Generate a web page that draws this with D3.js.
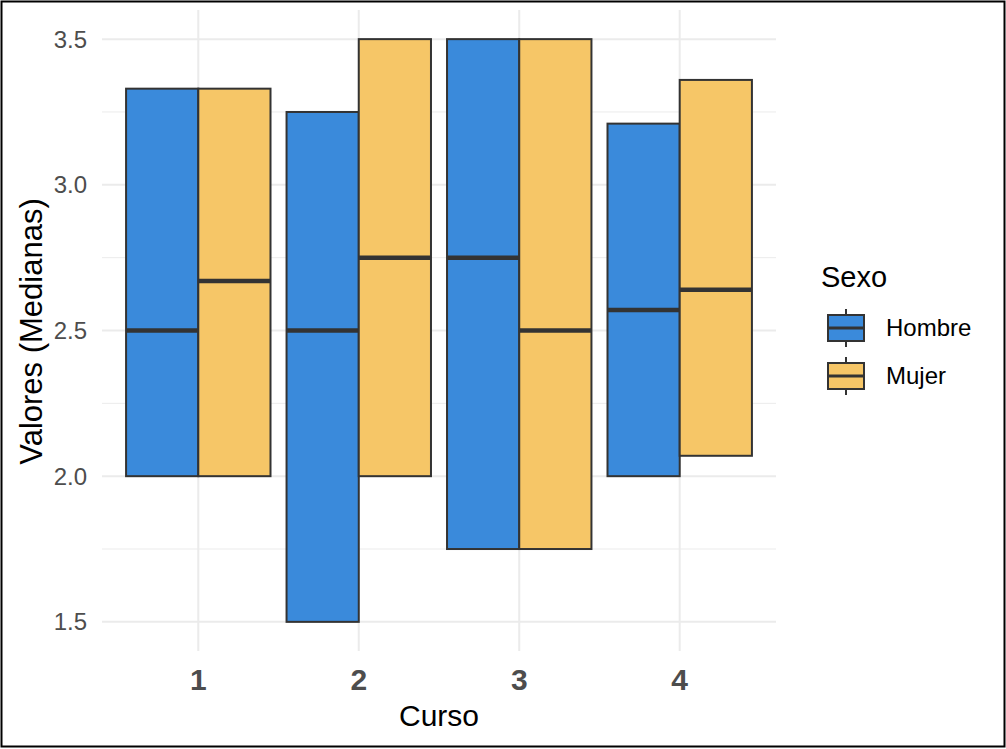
<!DOCTYPE html>
<html><head><meta charset="utf-8">
<script src="https://cdn.jsdelivr.net/npm/d3@7"></script>
<style>body{margin:0;background:#fff;} svg{display:block;}</style>
</head><body>
<script>
const cursos = ["1","2","3","4"];
const sexos = ["Hombre","Mujer"];
const colores = ["#3A8ADB","#F6C667"];
const hombreQ1  = [2.00, 1.50, 1.75, 2.00];
const hombreMed = [2.50, 2.50, 2.75, 2.57];
const hombreQ3  = [3.33, 3.25, 3.50, 3.21];
const mujerQ1   = [2.00, 2.00, 1.75, 2.07];
const mujerMed  = [2.67, 2.75, 2.50, 2.64];
const mujerQ3   = [3.33, 3.50, 3.50, 3.36];
const yTicks = [1.5, 2.0, 2.5, 3.0, 3.5];
const yMinor = [1.75, 2.25, 2.75, 3.25];

const data = [];
cursos.forEach((c,i)=>{
  data.push({curso:c, sexo:"Hombre", q1:hombreQ1[i], med:hombreMed[i], q3:hombreQ3[i]});
  data.push({curso:c, sexo:"Mujer", q1:mujerQ1[i], med:mujerMed[i], q3:mujerQ3[i]});
});

const FONT = "Liberation Sans, Arial, sans-serif";
const W=1006, H=749;
const svg = d3.select("body").append("svg").attr("width",W).attr("height",H);
svg.append("rect").attr("x",1.5).attr("y",1.5).attr("width",W-3).attr("height",H-4)
  .attr("fill","#fff").attr("stroke","#000").attr("stroke-width",2);

const panel = {left:102, right:776, top:10, bottom:651};
// ggplot discrete expansion: 0.6 units on each side
const x = d3.scalePoint().domain(cursos).range([panel.left,panel.right]).padding(0.6/1.5*1.0);
const unit = (panel.right-panel.left)/4.2;
const xc = c => panel.left + unit*(0.6 + cursos.indexOf(c));
const y = d3.scaleLinear().domain([1.4,3.6]).range([panel.bottom,panel.top]);
const xs = d3.scaleBand().domain(sexos).range([-unit*0.45, unit*0.45]);
const color = d3.scaleOrdinal().domain(sexos).range(colores);

const grid = svg.append("g");
yMinor.forEach(v=>grid.append("line").attr("x1",panel.left).attr("x2",panel.right)
  .attr("y1",y(v)).attr("y2",y(v)).attr("stroke","#EBEBEB").attr("stroke-width",1));
yTicks.forEach(v=>grid.append("line").attr("x1",panel.left).attr("x2",panel.right)
  .attr("y1",y(v)).attr("y2",y(v)).attr("stroke","#EBEBEB").attr("stroke-width",2));
cursos.forEach(c=>grid.append("line").attr("x1",xc(c)).attr("x2",xc(c))
  .attr("y1",panel.top).attr("y2",panel.bottom).attr("stroke","#EBEBEB").attr("stroke-width",2));

const boxes = svg.append("g").selectAll("g").data(data).join("g");
boxes.append("rect")
  .attr("x",d=>xc(d.curso)+xs(d.sexo))
  .attr("width",xs.bandwidth())
  .attr("y",d=>y(d.q3))
  .attr("height",d=>y(d.q1)-y(d.q3))
  .attr("fill",d=>color(d.sexo)).attr("stroke","#333").attr("stroke-width",2);
boxes.append("line")
  .attr("x1",d=>xc(d.curso)+xs(d.sexo)).attr("x2",d=>xc(d.curso)+xs(d.sexo)+xs.bandwidth())
  .attr("y1",d=>y(d.med)).attr("y2",d=>y(d.med))
  .attr("stroke","#333").attr("stroke-width",4.5);

const yAx = svg.append("g");
yTicks.forEach(v=>yAx.append("text").attr("x",87).attr("y",y(v)).attr("dy","0.35em")
  .attr("text-anchor","end").attr("font-family",FONT)
  .attr("font-size",24).attr("fill","#4D4D4D").text(v.toFixed(1)));
cursos.forEach(c=>svg.append("text").attr("x",xc(c)).attr("y",690)
  .attr("text-anchor","middle").attr("font-family",FONT)
  .attr("font-size",30).attr("font-weight","bold").attr("fill","#4D4D4D").text(c));
svg.append("text").attr("x",(panel.left+panel.right)/2).attr("y",726).attr("text-anchor","middle")
  .attr("font-family",FONT).attr("font-size",30).attr("fill","#000").text("Curso");
svg.append("text").attr("transform",`translate(42,${(panel.top+panel.bottom)/2+1}) rotate(-90)`)
  .attr("text-anchor","middle").attr("font-family",FONT)
  .attr("font-size",31).attr("fill","#000").text("Valores (Medianas)");

const lg = svg.append("g");
lg.append("text").attr("x",821).attr("y",287).attr("font-family",FONT)
  .attr("font-size",29).attr("fill","#000").text("Sexo");
sexos.forEach((s,i)=>{
  const cy = 328 + i*48;
  lg.append("line").attr("x1",846).attr("x2",846).attr("y1",cy-19).attr("y2",cy+19)
    .attr("stroke","#333").attr("stroke-width",2);
  lg.append("rect").attr("x",828).attr("y",cy-13).attr("width",36).attr("height",26)
    .attr("fill",color(s)).attr("stroke","#333").attr("stroke-width",2);
  lg.append("line").attr("x1",828).attr("x2",864).attr("y1",cy).attr("y2",cy)
    .attr("stroke","#333").attr("stroke-width",3);
  lg.append("text").attr("x",886).attr("y",cy).attr("dy","0.35em")
    .attr("font-family",FONT).attr("font-size",24).attr("fill","#000").text(s);
});
</script>
</body></html>
